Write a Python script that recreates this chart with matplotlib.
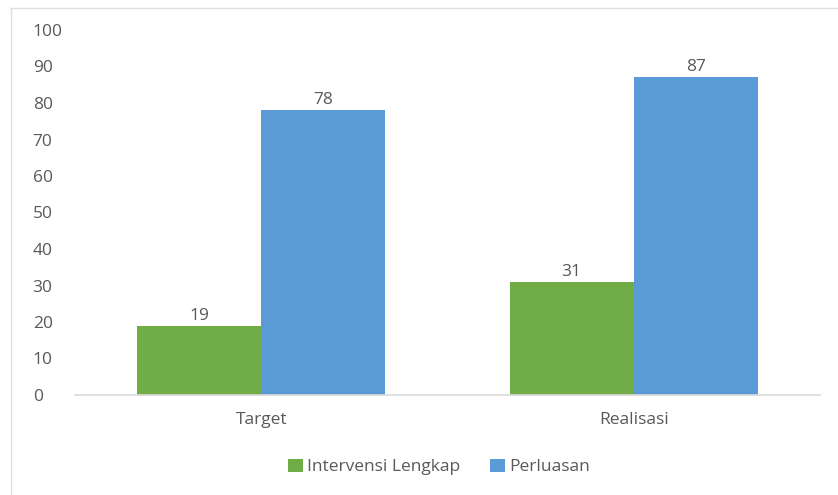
import matplotlib
matplotlib.use("Agg")
import matplotlib.pyplot as plt
from matplotlib.lines import Line2D
import numpy as np

categories = ["Target", "Realisasi"]
series_names = ["Intervensi Lengkap", "Perluasan"]
intervensi = [19, 31]
perluasan = [78, 87]
yticks = list(range(0, 101, 10))

plt.rcParams['font.family'] = ['Open Sans', 'DejaVu Sans']
W, H = 838, 495
fig = plt.figure(figsize=(W/100, H/100), dpi=100)
ax = fig.add_axes([75/W, 1-395/H, (820-75)/W, (395-30)/H])

x = np.arange(len(categories))
bw = 1/3
green = '#70AD47'
blue = '#5B9BD5'
txt = '#595959'
fs = 12.5
b1 = ax.bar(x - bw/2, intervensi, bw, color=green, label=series_names[0])
b2 = ax.bar(x + bw/2, perluasan, bw, color=blue, label=series_names[1])
for bars in (b1, b2):
    ax.bar_label(bars, padding=1.5, color=txt, fontsize=fs)

ax.set_xlim(-0.5, 1.5)
ax.set_ylim(0, 100)
ax.set_yticks(yticks)
ax.set_xticks(x)
ax.set_xticklabels(categories)
for s in ['top', 'right', 'left']:
    ax.spines[s].set_visible(False)
ax.spines['bottom'].set_color('#d9d9d9')
ax.spines['bottom'].set_linewidth(1.2)
ax.tick_params(axis='both', length=0, colors=txt, labelsize=fs)
ax.tick_params(axis='y', pad=30.5)
for lab in ax.get_yticklabels():
    lab.set_ha('left')
ax.tick_params(axis='x', pad=12)

leg = fig.legend(loc='center', bbox_to_anchor=(439/W, 1-467/H), ncol=2, frameon=False,
                 fontsize=fs, handlelength=0.85, handleheight=0.85, handletextpad=0.25,
                 columnspacing=1.7, labelcolor=txt)

fig.add_artist(Line2D([10.5/W, 1], [1-7.5/H, 1-7.5/H], transform=fig.transFigure, color='#e0e0e0', lw=1))
fig.add_artist(Line2D([10.5/W, 10.5/W], [0, 1-7.5/H], transform=fig.transFigure, color='#e0e0e0', lw=1))

fig.savefig('out.png', dpi=100)
